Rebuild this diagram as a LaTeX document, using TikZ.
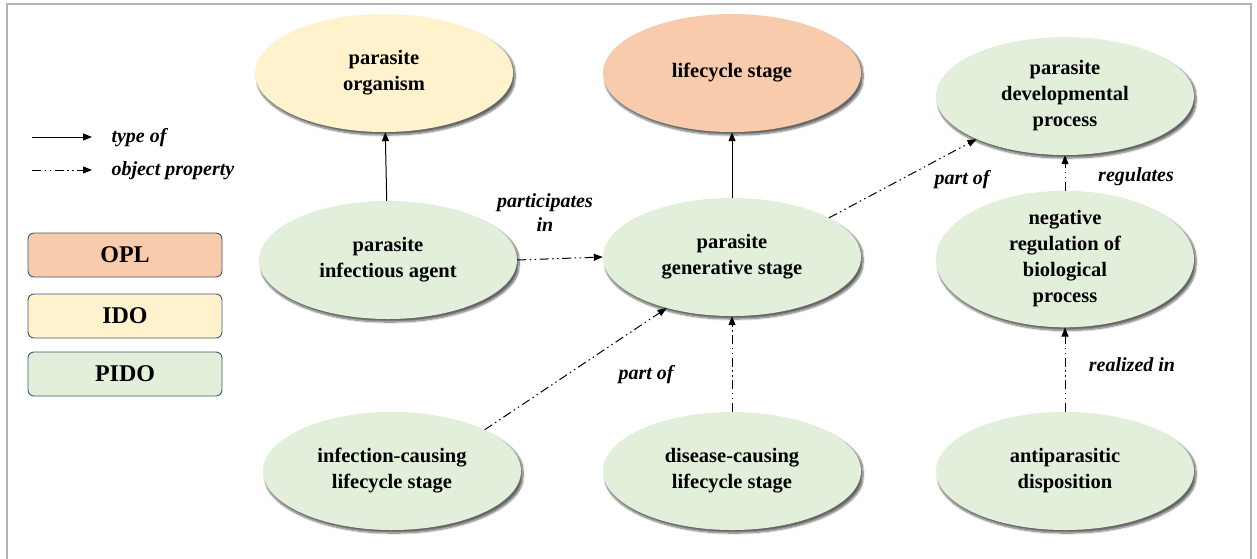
\documentclass[tikz,border=0pt]{standalone}
\usepackage{fontspec}
\setmainfont{Liberation Serif}
\usetikzlibrary{arrows.meta,shadows.blur,shapes.geometric}
\definecolor{oplc}{HTML}{F8CBAD}
\definecolor{idoc}{HTML}{FFF2CC}
\definecolor{pidoc}{HTML}{E2EFDA}
\definecolor{boxline}{HTML}{44546A}
\tikzset{
  ell/.style={ellipse, minimum width=258pt, minimum height=118pt, inner sep=0pt,
    align=center, font=\fontsize{20.5}{26}\selectfont\bfseries,
    blur shadow={shadow xshift=2pt, shadow yshift=-3pt, shadow blur steps=10, shadow blur extra rounding=3pt, shadow opacity=60}},
  pido/.style={ell, fill=pidoc},
  ido/.style={ell, fill=idoc},
  opl/.style={ell, fill=oplc},
  typeof/.style={-{Triangle[length=9pt,width=7pt]}, line width=1pt},
  objprop/.style={-{Triangle[length=9pt,width=7pt]}, line width=1pt,
    dash pattern=on 9pt off 3.5pt on 1.5pt off 3.5pt on 1.5pt off 3.5pt},
  lbl/.style={font=\fontsize{20}{24}\selectfont\bfseries\itshape, align=center},
  legbox/.style={draw=boxline, line width=0.9pt, rounded corners=6pt, minimum width=194pt,
    minimum height=44pt, font=\fontsize{24}{28}\selectfont\bfseries},
}
\begin{document}
\begin{tikzpicture}[x=1pt,y=-1pt]
\useasboundingbox (0,0) rectangle (1257,558);
\draw[line width=1.5pt, black!30] (7,560) -- (7,4) -- (1251,4) -- (1251,560);

% legend
\coordinate (la1) at (32,137); \coordinate (la2) at (92,137);
\coordinate (lb1) at (32,170); \coordinate (lb2) at (92,170);
\draw[typeof] (la1) -- (la2);
\draw[objprop] (lb1) -- (lb2);
\node[lbl, anchor=west] (lta) at (108,138) {type of};
\node[lbl, anchor=west] (ltb) at (108,171) {object property};

\node[legbox, fill=oplc] (bopl) at (125,255) {OPL};
\node[legbox, fill=idoc] (bido) at (125,316) {IDO};
\node[legbox, fill=pidoc] (bpido) at (125,374) {PIDO};

% ellipses
\node[ido]  (org) at (384,73)  {parasite\\organism};
\node[opl]  (lcs) at (732,73)  {lifecycle stage};
\node[pido] (dev) at (1065,96) {parasite\\developmental\\process};
\node[pido] (inf) at (388,260) {parasite\\infectious agent};
\node[pido] (gen) at (732,257) {parasite\\generative stage};
\node[pido] (neg) at (1065,259) {negative\\regulation of\\biological\\process};
\node[pido] (ics) at (392,471) {infection-causing\\lifecycle stage};
\node[pido] (dcs) at (732,471) {disease-causing\\lifecycle stage};
\node[pido] (anti) at (1065,471) {antiparasitic\\disposition};

% connectors
\draw[typeof] (inf) -- (org);
\draw[typeof] (gen) -- (lcs);
\draw[objprop] (inf.east) -- (gen.west);
\draw[objprop] (gen.22) -- (dev.206);
\draw[objprop] (neg) -- (dev);
\draw[objprop] (anti) -- (neg);
\draw[objprop] (dcs) -- (gen);
\draw[objprop] (ics.24) -- (gen.218);

% labels
\node[lbl] (lpi) at (545,213) {participates\\in};
\node[lbl] (lpo1) at (962,180) {part of};
\node[lbl] (lreg) at (1136,177) {regulates};
\node[lbl] (lpo2) at (646,375) {part of};
\node[lbl] (lri) at (1132,365) {realized in};
\end{tikzpicture}
\end{document}
